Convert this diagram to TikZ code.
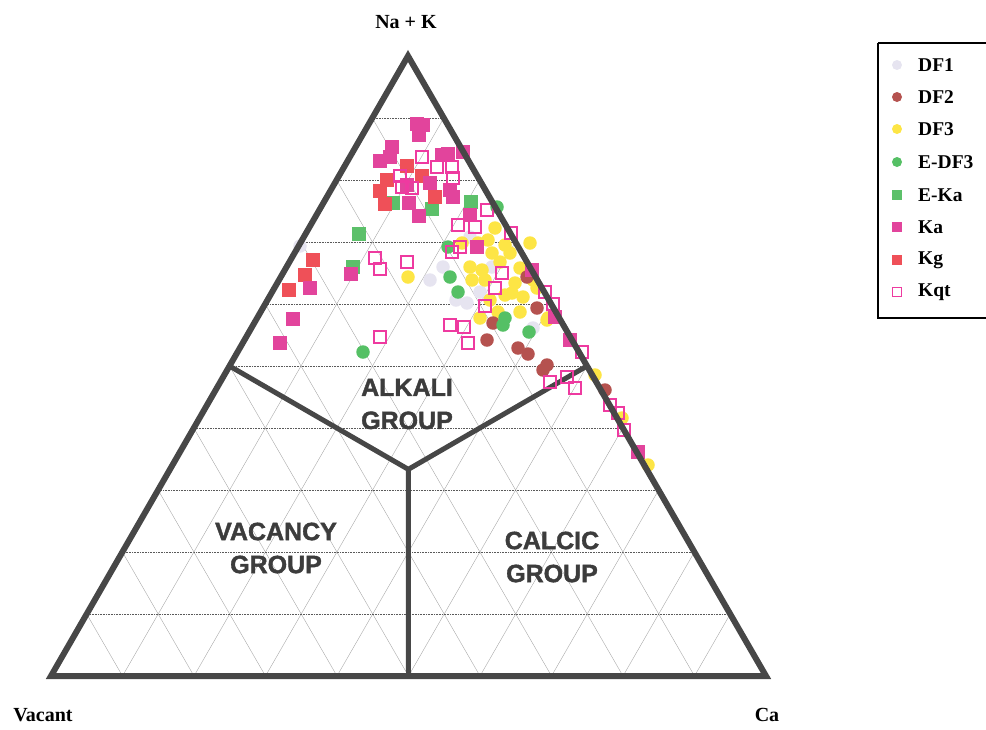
\documentclass[tikz,border=0pt]{standalone}
\usepackage{fontspec}
\setmainfont{Liberation Serif}
\newfontfamily\grpfont[FakeBold=1.6]{Liberation Sans Bold}
\usetikzlibrary{calc}
\definecolor{edgecol}{HTML}{474747}
\definecolor{gridcol}{HTML}{A8A8A8}
\definecolor{hgridcol}{HTML}{5A5A5A}
\definecolor{dfone}{HTML}{E6E4F0}
\definecolor{dftwo}{HTML}{B5524F}
\definecolor{dfthree}{HTML}{FDE545}
\definecolor{edfthree}{HTML}{55C065}
\definecolor{ekacol}{HTML}{5CC06A}
\definecolor{kacol}{HTML}{E2449C}
\definecolor{kgcol}{HTML}{EF5058}
\definecolor{kqtcol}{HTML}{EE3AA0}
\definecolor{grptext}{HTML}{3C3C3C}
\tikzset{
  tri/.style={draw=edgecol, line width=6pt, line join=miter},
  bnd/.style={draw=edgecol, line width=5pt, line join=miter},
  dgrid/.style={draw=gridcol, line width=0.4pt},
  hgrid/.style={draw=hgridcol, line width=0.6pt, densely dotted},
  mk/.style={inner sep=0pt, outer sep=0pt},
  sqm/.style={mk, rectangle, minimum size=14.5pt},
  cim/.style={mk, circle, minimum size=13.5pt},
  dfa/.style={cim, fill=dfone},
  dfb/.style={cim, fill=dftwo},
  dfc/.style={cim, fill=dfthree},
  edf/.style={cim, fill=edfthree},
  eka/.style={sqm, fill=ekacol},
  ka/.style={sqm, fill=kacol},
  kg/.style={sqm, fill=kgcol},
  kqt/.style={mk, rectangle, minimum size=12.5pt, draw=kqtcol, line width=1.9pt},
  grp/.style={text=grptext, font=\grpfont\fontsize{25}{33}\selectfont, align=center, inner sep=0pt},
  lbl/.style={font=\bfseries\fontsize{20}{24}\selectfont, inner sep=0pt},
  legtxt/.style={font=\bfseries\fontsize{19.5}{23}\selectfont, anchor=west, inner sep=0pt},
}
\begin{document}
\begin{tikzpicture}[x=1pt,y=-1pt]
\useasboundingbox (0,0) rectangle (986,729);
\coordinate (A) at (408,56);
\coordinate (B) at (51,676);
\coordinate (C) at (766,676);
% grid
\foreach \i in {1,...,9}{
  \draw[dgrid] ($(B)!\i/10!(A)$) -- ($(B)!\i/10!(C)$);
  \draw[dgrid] ($(C)!\i/10!(A)$) -- ($(C)!\i/10!(B)$);
  \draw[hgrid] ($(A)!\i/10!(B)$) -- ($(A)!\i/10!(C)$);
}
% group boundaries
\coordinate (mL) at ($(A)!0.5!(B)$);
\coordinate (mR) at ($(A)!0.5!(C)$);
\coordinate (mB) at ($(B)!0.5!(C)$);
\coordinate (G) at ($(mB)!1/3!(A)$);
\draw[bnd] (mL) -- (G) -- (mR);
\draw[bnd] (G) -- (mB);
% data: circles
\foreach \x/\y [count=\i] in {430/280,443/267,467/303,480/292,533/328,492/267,470/237,300/246,456/300}
  \node[dfa] (dfa\i) at (\x,\y) {};
\foreach \x/\y [count=\i] in {495/228,488/240,530/243,462/243,478/243,492/253,510/253,500/262,470/267,482/270,520/268,472/280,485/280,515/283,512/293,523/297,498/312,520/312,548/318,533/280,537/288,408/277,595/375,622/418,648/465,547/320,505/295,490/300,480/318,505/245}
  \node[dfc] (dfc\i) at (\x,\y) {};
\foreach \x/\y [count=\i] in {537/308,493/323,487/340,518/348,528/354,547/365,543/370,605/390,527/277}
  \node[dfb] (dfb\i) at (\x,\y) {};
\foreach \x/\y [count=\i] in {448/247,450/277,458/292,505/318,503/325,529/332,363/352,497/207}
  \node[edf] (edf\i) at (\x,\y) {};
% data: squares
\foreach \x/\y [count=\i] in {393/203,432/209,471/202,359/234,353/267}
  \node[eka] (eka\i) at (\x,\y) {};
\foreach \x/\y [count=\i] in {407/166,422/176,387/180,380/191,385/204,435/197,313/260,305/275,289/290}
  \node[kg] (kg\i) at (\x,\y) {};
\foreach \x/\y [count=\i] in {417/124,423/125,419/135,392/147,390/157,380/161,442/155,448/154,463/152,407/185,430/183,450/190,453/197,409/203,419/216,470/215,477/247,532/270,555/317,570/340,638/452,351/274,310/288,293/319,280/343}
  \node[ka] (ka\i) at (\x,\y) {};
\foreach \x/\y [count=\i] in {422/157,437/167,452/167,400/176,402/187,412/188,453/178,487/210,458/225,475/227,511/233,452/252,460/247,502/273,495/288,485/306,450/325,464/327,468/343,545/292,553/304,375/258,380/269,407/262,380/337,582/352,550/382,567/377,575/388,610/405,618/413,624/430}
  \node[kqt] (kqt\i) at (\x,\y) {};
% triangle
\draw[tri] (A) -- (B) -- (C) -- cycle;
% group labels
\node[grp] (alk) at (407,404) {ALKALI\\GROUP};
\node[grp] (vac) at (276,548) {VACANCY\\GROUP};
\node[grp] (cal) at (552,557) {CALCIC\\GROUP};
% vertex labels
\node[lbl] (nak) at (406,22) {Na + K};
\node[lbl] (vacant) at (43,715) {Vacant};
\node[lbl] (ca) at (767,715) {Ca};
% legend
\draw[black, line width=2pt] (878,43) -- (878,318) -- (992,318);
\draw[black, line width=2pt] (878,43) -- (992,43);
\node[mk, circle, minimum size=10pt, fill=dfone] (l1) at (897,65) {};
\node[mk, circle, minimum size=10pt, fill=dftwo] (l2) at (897,97) {};
\node[mk, circle, minimum size=10pt, fill=dfthree] (l3) at (897,129) {};
\node[mk, circle, minimum size=10pt, fill=edfthree] (l4) at (897,162) {};
\node[mk, rectangle, minimum size=10pt, fill=ekacol] (l5) at (897,195) {};
\node[mk, rectangle, minimum size=10pt, fill=kacol] (l6) at (897,227) {};
\node[mk, rectangle, minimum size=10pt, fill=kgcol] (l7) at (897,260) {};
\node[mk, rectangle, minimum size=9pt, draw=kqtcol, line width=1.5pt] (l8) at (897,292) {};
\node[legtxt] (t1) at (918,65) {DF1};
\node[legtxt] (t2) at (918,97) {DF2};
\node[legtxt] (t3) at (918,129) {DF3};
\node[legtxt] (t4) at (918,162) {E-DF3};
\node[legtxt] (t5) at (918,195) {E-Ka};
\node[legtxt] (t6) at (918,227) {Ka};
\node[legtxt] (t7) at (918,260) {Kg};
\node[legtxt] (t8) at (918,292) {Kqt};
\end{tikzpicture}
\end{document}
